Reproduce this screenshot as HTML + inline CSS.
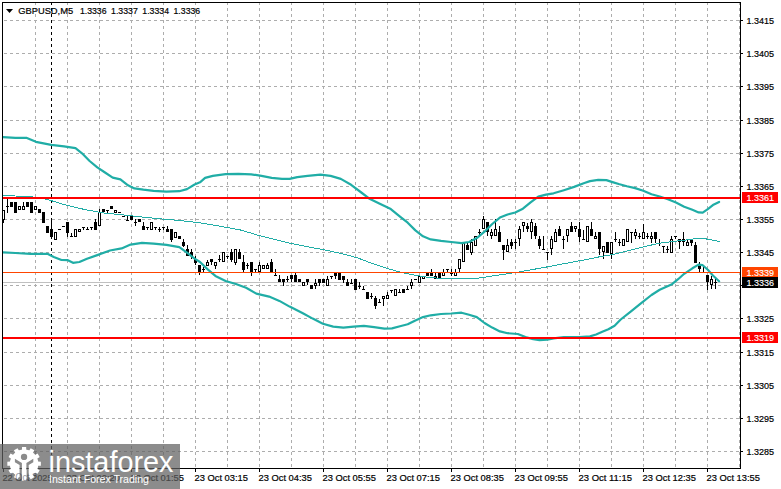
<!DOCTYPE html>
<html><head><meta charset="utf-8"><title>GBPUSD M5</title>
<style>html,body{margin:0;padding:0;background:#fff}body{width:781px;height:489px;overflow:hidden}</style>
</head><body>
<svg width="781" height="489" viewBox="0 0 781 489" style="display:block">
<rect width="781" height="489" fill="#fff"/>
<g stroke="#adadad" stroke-width="1" stroke-dasharray="3 3" shape-rendering="crispEdges" fill="none">
<path d="M4 20.5H740"/>
<path d="M4 53.5H740"/>
<path d="M4 86.5H740"/>
<path d="M4 120.5H740"/>
<path d="M4 153.5H740"/>
<path d="M4 186.5H740"/>
<path d="M4 219.5H740"/>
<path d="M4 252.5H740"/>
<path d="M4 285.5H740"/>
<path d="M4 318.5H740"/>
<path d="M4 352.5H740"/>
<path d="M4 385.5H740"/>
<path d="M4 418.5H740"/>
<path d="M4 451.5H740"/>
<path d="M35.5 2V468"/>
<path d="M67.5 2V468"/>
<path d="M99.5 2V468"/>
<path d="M131.5 2V468"/>
<path d="M163.5 2V468"/>
<path d="M195.5 2V468"/>
<path d="M227.5 2V468"/>
<path d="M259.5 2V468"/>
<path d="M291.5 2V468"/>
<path d="M323.5 2V468"/>
<path d="M355.5 2V468"/>
<path d="M387.5 2V468"/>
<path d="M419.5 2V468"/>
<path d="M451.5 2V468"/>
<path d="M483.5 2V468"/>
<path d="M515.5 2V468"/>
<path d="M547.5 2V468"/>
<path d="M579.5 2V468"/>
<path d="M611.5 2V468"/>
<path d="M643.5 2V468"/>
<path d="M675.5 2V468"/>
<path d="M707.5 2V468"/>
<path d="M739.5 2V468"/>
</g>
<path d="M51.5 2V468" stroke="#000" stroke-width="1" stroke-dasharray="3 3" shape-rendering="crispEdges"/>
<g shape-rendering="crispEdges">
<rect x="3" y="282" width="738" height="1" fill="#c0c0c0"/>
</g>
<g shape-rendering="crispEdges" fill="#000">
<rect x="3" y="210" width="1" height="13"/>
<rect x="2" y="210" width="3" height="10"/>
<rect x="3" y="211" width="1" height="8" fill="#fff"/>
<rect x="7" y="199" width="1" height="14"/>
<rect x="6" y="206" width="3" height="1"/>
<rect x="10" y="202" width="3" height="5"/>
<rect x="14" y="202" width="3" height="11"/>
<rect x="18" y="206" width="3" height="4"/>
<rect x="19" y="207" width="1" height="2" fill="#fff"/>
<rect x="23" y="202" width="1" height="8"/>
<rect x="22" y="206" width="3" height="4"/>
<rect x="23" y="207" width="1" height="2" fill="#fff"/>
<rect x="26" y="202" width="3" height="5"/>
<rect x="30" y="202" width="3" height="11"/>
<rect x="34" y="206" width="3" height="4"/>
<rect x="35" y="207" width="1" height="2" fill="#fff"/>
<rect x="38" y="209" width="3" height="4"/>
<rect x="42" y="212" width="3" height="11"/>
<rect x="46" y="226" width="3" height="7"/>
<rect x="51" y="219" width="1" height="20"/>
<rect x="50" y="229" width="3" height="8"/>
<rect x="54" y="232" width="3" height="8"/>
<rect x="55" y="233" width="1" height="6" fill="#fff"/>
<rect x="58" y="229" width="3" height="1"/>
<rect x="62" y="226" width="3" height="1"/>
<rect x="67" y="222" width="1" height="15"/>
<rect x="66" y="222" width="3" height="11"/>
<rect x="71" y="233" width="1" height="3"/>
<rect x="70" y="236" width="3" height="1"/>
<rect x="74" y="229" width="3" height="8"/>
<rect x="75" y="230" width="1" height="6" fill="#fff"/>
<rect x="78" y="229" width="3" height="3"/>
<rect x="79" y="230" width="1" height="1" fill="#fff"/>
<rect x="83" y="227" width="1" height="3"/>
<rect x="82" y="227" width="3" height="1"/>
<rect x="87" y="227" width="1" height="3"/>
<rect x="86" y="229" width="3" height="1"/>
<rect x="91" y="227" width="1" height="3"/>
<rect x="90" y="227" width="3" height="1"/>
<rect x="95" y="219" width="1" height="11"/>
<rect x="94" y="222" width="3" height="8"/>
<rect x="99" y="209" width="1" height="17"/>
<rect x="98" y="212" width="3" height="14"/>
<rect x="99" y="213" width="1" height="12" fill="#fff"/>
<rect x="102" y="209" width="3" height="3"/>
<rect x="107" y="210" width="1" height="3"/>
<rect x="106" y="210" width="3" height="1"/>
<rect x="110" y="206" width="3" height="3"/>
<rect x="114" y="210" width="3" height="3"/>
<rect x="115" y="211" width="1" height="1" fill="#fff"/>
<rect x="118" y="212" width="3" height="1"/>
<rect x="122" y="216" width="3" height="1"/>
<rect x="127" y="216" width="1" height="5"/>
<rect x="126" y="220" width="3" height="1"/>
<rect x="130" y="216" width="3" height="4"/>
<rect x="135" y="219" width="1" height="7"/>
<rect x="134" y="222" width="3" height="1"/>
<rect x="138" y="219" width="3" height="3"/>
<rect x="143" y="222" width="1" height="8"/>
<rect x="142" y="226" width="3" height="4"/>
<rect x="147" y="227" width="1" height="3"/>
<rect x="146" y="227" width="3" height="1"/>
<rect x="150" y="222" width="3" height="8"/>
<rect x="151" y="223" width="1" height="6" fill="#fff"/>
<rect x="155" y="227" width="1" height="3"/>
<rect x="154" y="227" width="3" height="1"/>
<rect x="159" y="227" width="1" height="5"/>
<rect x="158" y="229" width="3" height="1"/>
<rect x="163" y="227" width="1" height="3"/>
<rect x="162" y="227" width="3" height="1"/>
<rect x="167" y="226" width="1" height="6"/>
<rect x="166" y="229" width="3" height="3"/>
<rect x="171" y="229" width="1" height="13"/>
<rect x="170" y="229" width="3" height="11"/>
<rect x="174" y="232" width="3" height="6"/>
<rect x="175" y="233" width="1" height="4" fill="#fff"/>
<rect x="178" y="236" width="3" height="3"/>
<rect x="183" y="239" width="1" height="8"/>
<rect x="182" y="242" width="3" height="4"/>
<rect x="187" y="245" width="1" height="11"/>
<rect x="186" y="249" width="3" height="7"/>
<rect x="191" y="249" width="1" height="10"/>
<rect x="190" y="252" width="3" height="4"/>
<rect x="195" y="256" width="1" height="9"/>
<rect x="194" y="259" width="3" height="4"/>
<rect x="199" y="265" width="1" height="10"/>
<rect x="198" y="265" width="3" height="7"/>
<rect x="203" y="267" width="1" height="5"/>
<rect x="202" y="269" width="3" height="1"/>
<rect x="207" y="260" width="1" height="6"/>
<rect x="206" y="262" width="3" height="4"/>
<rect x="207" y="263" width="1" height="2" fill="#fff"/>
<rect x="211" y="259" width="1" height="6"/>
<rect x="210" y="259" width="3" height="3"/>
<rect x="215" y="262" width="1" height="7"/>
<rect x="214" y="262" width="3" height="4"/>
<rect x="215" y="263" width="1" height="2" fill="#fff"/>
<rect x="219" y="255" width="1" height="7"/>
<rect x="218" y="259" width="3" height="1"/>
<rect x="222" y="252" width="3" height="10"/>
<rect x="223" y="253" width="1" height="8" fill="#fff"/>
<rect x="227" y="256" width="1" height="3"/>
<rect x="226" y="256" width="3" height="1"/>
<rect x="231" y="249" width="1" height="13"/>
<rect x="230" y="252" width="3" height="8"/>
<rect x="235" y="249" width="1" height="16"/>
<rect x="234" y="249" width="3" height="14"/>
<rect x="235" y="250" width="1" height="12" fill="#fff"/>
<rect x="239" y="249" width="1" height="10"/>
<rect x="238" y="252" width="3" height="7"/>
<rect x="243" y="255" width="1" height="17"/>
<rect x="242" y="262" width="3" height="8"/>
<rect x="247" y="263" width="1" height="6"/>
<rect x="246" y="265" width="3" height="1"/>
<rect x="251" y="262" width="1" height="14"/>
<rect x="250" y="262" width="3" height="10"/>
<rect x="255" y="269" width="1" height="3"/>
<rect x="254" y="269" width="3" height="1"/>
<rect x="259" y="262" width="1" height="10"/>
<rect x="258" y="265" width="3" height="7"/>
<rect x="259" y="266" width="1" height="5" fill="#fff"/>
<rect x="262" y="265" width="3" height="4"/>
<rect x="263" y="266" width="1" height="2" fill="#fff"/>
<rect x="267" y="263" width="1" height="6"/>
<rect x="266" y="265" width="3" height="4"/>
<rect x="267" y="266" width="1" height="2" fill="#fff"/>
<rect x="271" y="259" width="1" height="13"/>
<rect x="270" y="262" width="3" height="10"/>
<rect x="275" y="269" width="1" height="7"/>
<rect x="274" y="275" width="3" height="1"/>
<rect x="279" y="275" width="1" height="7"/>
<rect x="278" y="279" width="3" height="3"/>
<rect x="283" y="279" width="1" height="7"/>
<rect x="282" y="279" width="3" height="3"/>
<rect x="287" y="276" width="1" height="6"/>
<rect x="286" y="279" width="3" height="1"/>
<rect x="291" y="275" width="1" height="7"/>
<rect x="290" y="275" width="3" height="4"/>
<rect x="295" y="272" width="1" height="10"/>
<rect x="294" y="275" width="3" height="7"/>
<rect x="298" y="279" width="3" height="3"/>
<rect x="302" y="282" width="3" height="4"/>
<rect x="303" y="283" width="1" height="2" fill="#fff"/>
<rect x="307" y="279" width="1" height="6"/>
<rect x="306" y="279" width="3" height="3"/>
<rect x="310" y="285" width="3" height="4"/>
<rect x="315" y="279" width="1" height="10"/>
<rect x="314" y="283" width="3" height="3"/>
<rect x="315" y="284" width="1" height="1" fill="#fff"/>
<rect x="319" y="279" width="1" height="7"/>
<rect x="318" y="279" width="3" height="4"/>
<rect x="322" y="279" width="3" height="4"/>
<rect x="327" y="276" width="1" height="10"/>
<rect x="326" y="279" width="3" height="7"/>
<rect x="327" y="280" width="1" height="5" fill="#fff"/>
<rect x="331" y="276" width="1" height="3"/>
<rect x="330" y="276" width="3" height="1"/>
<rect x="335" y="272" width="1" height="7"/>
<rect x="334" y="272" width="3" height="4"/>
<rect x="338" y="272" width="3" height="8"/>
<rect x="343" y="276" width="1" height="7"/>
<rect x="342" y="276" width="3" height="4"/>
<rect x="347" y="279" width="1" height="7"/>
<rect x="346" y="282" width="3" height="4"/>
<rect x="351" y="279" width="1" height="5"/>
<rect x="350" y="283" width="3" height="1"/>
<rect x="354" y="279" width="3" height="11"/>
<rect x="359" y="282" width="1" height="7"/>
<rect x="358" y="286" width="3" height="1"/>
<rect x="363" y="286" width="1" height="4"/>
<rect x="362" y="289" width="3" height="1"/>
<rect x="366" y="292" width="3" height="7"/>
<rect x="371" y="293" width="1" height="6"/>
<rect x="370" y="296" width="3" height="1"/>
<rect x="375" y="296" width="1" height="13"/>
<rect x="374" y="298" width="3" height="8"/>
<rect x="379" y="299" width="1" height="4"/>
<rect x="378" y="302" width="3" height="1"/>
<rect x="383" y="296" width="1" height="10"/>
<rect x="382" y="296" width="3" height="3"/>
<rect x="383" y="297" width="1" height="1" fill="#fff"/>
<rect x="387" y="292" width="1" height="7"/>
<rect x="386" y="295" width="3" height="4"/>
<rect x="387" y="296" width="1" height="2" fill="#fff"/>
<rect x="391" y="290" width="1" height="3"/>
<rect x="390" y="290" width="3" height="1"/>
<rect x="394" y="289" width="3" height="7"/>
<rect x="395" y="290" width="1" height="5" fill="#fff"/>
<rect x="399" y="289" width="1" height="4"/>
<rect x="398" y="292" width="3" height="1"/>
<rect x="402" y="289" width="3" height="4"/>
<rect x="407" y="286" width="1" height="4"/>
<rect x="406" y="289" width="3" height="1"/>
<rect x="411" y="279" width="1" height="10"/>
<rect x="410" y="282" width="3" height="4"/>
<rect x="411" y="283" width="1" height="2" fill="#fff"/>
<rect x="414" y="279" width="3" height="1"/>
<rect x="418" y="276" width="3" height="7"/>
<rect x="419" y="277" width="1" height="5" fill="#fff"/>
<rect x="422" y="276" width="3" height="3"/>
<rect x="423" y="277" width="1" height="1" fill="#fff"/>
<rect x="426" y="272" width="3" height="4"/>
<rect x="431" y="269" width="1" height="7"/>
<rect x="430" y="272" width="3" height="4"/>
<rect x="435" y="273" width="1" height="6"/>
<rect x="434" y="276" width="3" height="3"/>
<rect x="435" y="277" width="1" height="1" fill="#fff"/>
<rect x="438" y="272" width="3" height="7"/>
<rect x="443" y="269" width="1" height="7"/>
<rect x="442" y="272" width="3" height="4"/>
<rect x="443" y="273" width="1" height="2" fill="#fff"/>
<rect x="447" y="269" width="1" height="4"/>
<rect x="446" y="269" width="3" height="1"/>
<rect x="451" y="269" width="1" height="7"/>
<rect x="450" y="273" width="3" height="1"/>
<rect x="455" y="269" width="1" height="7"/>
<rect x="454" y="272" width="3" height="4"/>
<rect x="455" y="273" width="1" height="2" fill="#fff"/>
<rect x="459" y="259" width="1" height="14"/>
<rect x="458" y="259" width="3" height="10"/>
<rect x="459" y="260" width="1" height="8" fill="#fff"/>
<rect x="462" y="243" width="3" height="19"/>
<rect x="463" y="244" width="1" height="17" fill="#fff"/>
<rect x="467" y="242" width="1" height="8"/>
<rect x="466" y="245" width="3" height="5"/>
<rect x="471" y="239" width="1" height="16"/>
<rect x="470" y="242" width="3" height="11"/>
<rect x="471" y="243" width="1" height="9" fill="#fff"/>
<rect x="474" y="236" width="3" height="10"/>
<rect x="475" y="237" width="1" height="8" fill="#fff"/>
<rect x="479" y="229" width="1" height="7"/>
<rect x="478" y="232" width="3" height="1"/>
<rect x="483" y="216" width="1" height="13"/>
<rect x="482" y="219" width="3" height="10"/>
<rect x="483" y="220" width="1" height="8" fill="#fff"/>
<rect x="487" y="222" width="1" height="14"/>
<rect x="486" y="222" width="3" height="10"/>
<rect x="491" y="229" width="1" height="10"/>
<rect x="490" y="232" width="3" height="4"/>
<rect x="491" y="233" width="1" height="2" fill="#fff"/>
<rect x="495" y="219" width="1" height="17"/>
<rect x="494" y="229" width="3" height="7"/>
<rect x="495" y="230" width="1" height="5" fill="#fff"/>
<rect x="499" y="226" width="1" height="16"/>
<rect x="498" y="232" width="3" height="10"/>
<rect x="503" y="245" width="1" height="15"/>
<rect x="502" y="245" width="3" height="5"/>
<rect x="507" y="239" width="1" height="13"/>
<rect x="506" y="245" width="3" height="7"/>
<rect x="507" y="246" width="1" height="5" fill="#fff"/>
<rect x="511" y="239" width="1" height="10"/>
<rect x="510" y="242" width="3" height="4"/>
<rect x="515" y="239" width="1" height="10"/>
<rect x="514" y="242" width="3" height="1"/>
<rect x="519" y="226" width="1" height="20"/>
<rect x="518" y="229" width="3" height="10"/>
<rect x="519" y="230" width="1" height="8" fill="#fff"/>
<rect x="523" y="222" width="1" height="10"/>
<rect x="522" y="222" width="3" height="4"/>
<rect x="523" y="223" width="1" height="2" fill="#fff"/>
<rect x="527" y="223" width="1" height="9"/>
<rect x="526" y="226" width="3" height="3"/>
<rect x="531" y="219" width="1" height="20"/>
<rect x="530" y="222" width="3" height="10"/>
<rect x="531" y="223" width="1" height="8" fill="#fff"/>
<rect x="535" y="223" width="1" height="16"/>
<rect x="534" y="226" width="3" height="10"/>
<rect x="539" y="236" width="1" height="13"/>
<rect x="538" y="239" width="3" height="7"/>
<rect x="543" y="236" width="1" height="14"/>
<rect x="542" y="249" width="3" height="1"/>
<rect x="547" y="252" width="1" height="8"/>
<rect x="546" y="252" width="3" height="1"/>
<rect x="551" y="236" width="1" height="19"/>
<rect x="550" y="239" width="3" height="10"/>
<rect x="551" y="240" width="1" height="8" fill="#fff"/>
<rect x="555" y="229" width="1" height="13"/>
<rect x="554" y="232" width="3" height="10"/>
<rect x="555" y="233" width="1" height="8" fill="#fff"/>
<rect x="559" y="226" width="1" height="10"/>
<rect x="558" y="229" width="3" height="7"/>
<rect x="563" y="236" width="1" height="13"/>
<rect x="562" y="239" width="3" height="1"/>
<rect x="567" y="229" width="1" height="13"/>
<rect x="566" y="229" width="3" height="7"/>
<rect x="567" y="230" width="1" height="5" fill="#fff"/>
<rect x="571" y="222" width="1" height="10"/>
<rect x="570" y="226" width="3" height="6"/>
<rect x="575" y="226" width="1" height="6"/>
<rect x="574" y="226" width="3" height="3"/>
<rect x="575" y="227" width="1" height="1" fill="#fff"/>
<rect x="579" y="222" width="1" height="20"/>
<rect x="578" y="229" width="3" height="8"/>
<rect x="583" y="230" width="1" height="10"/>
<rect x="582" y="239" width="3" height="1"/>
<rect x="586" y="226" width="3" height="16"/>
<rect x="587" y="227" width="1" height="14" fill="#fff"/>
<rect x="591" y="222" width="1" height="14"/>
<rect x="590" y="229" width="3" height="7"/>
<rect x="595" y="232" width="1" height="7"/>
<rect x="594" y="236" width="3" height="3"/>
<rect x="595" y="237" width="1" height="1" fill="#fff"/>
<rect x="599" y="232" width="1" height="23"/>
<rect x="598" y="232" width="3" height="17"/>
<rect x="603" y="246" width="1" height="13"/>
<rect x="602" y="246" width="3" height="6"/>
<rect x="603" y="247" width="1" height="4" fill="#fff"/>
<rect x="606" y="242" width="3" height="11"/>
<rect x="611" y="242" width="1" height="17"/>
<rect x="610" y="242" width="3" height="12"/>
<rect x="611" y="243" width="1" height="10" fill="#fff"/>
<rect x="615" y="232" width="1" height="10"/>
<rect x="614" y="239" width="3" height="1"/>
<rect x="619" y="239" width="1" height="7"/>
<rect x="618" y="242" width="3" height="1"/>
<rect x="622" y="239" width="3" height="7"/>
<rect x="623" y="240" width="1" height="5" fill="#fff"/>
<rect x="626" y="229" width="3" height="13"/>
<rect x="627" y="230" width="1" height="11" fill="#fff"/>
<rect x="631" y="232" width="1" height="11"/>
<rect x="630" y="232" width="3" height="1"/>
<rect x="635" y="229" width="1" height="10"/>
<rect x="634" y="232" width="3" height="4"/>
<rect x="635" y="233" width="1" height="2" fill="#fff"/>
<rect x="639" y="233" width="1" height="6"/>
<rect x="638" y="236" width="3" height="1"/>
<rect x="643" y="224" width="1" height="15"/>
<rect x="642" y="232" width="3" height="7"/>
<rect x="643" y="233" width="1" height="5" fill="#fff"/>
<rect x="647" y="233" width="1" height="6"/>
<rect x="646" y="236" width="3" height="1"/>
<rect x="651" y="232" width="1" height="11"/>
<rect x="650" y="236" width="3" height="3"/>
<rect x="651" y="237" width="1" height="1" fill="#fff"/>
<rect x="655" y="232" width="1" height="11"/>
<rect x="654" y="232" width="3" height="7"/>
<rect x="659" y="239" width="1" height="7"/>
<rect x="658" y="243" width="3" height="1"/>
<rect x="663" y="246" width="1" height="7"/>
<rect x="662" y="246" width="3" height="1"/>
<rect x="667" y="246" width="1" height="7"/>
<rect x="666" y="249" width="3" height="1"/>
<rect x="671" y="236" width="1" height="17"/>
<rect x="670" y="239" width="3" height="14"/>
<rect x="671" y="240" width="1" height="12" fill="#fff"/>
<rect x="675" y="236" width="1" height="3"/>
<rect x="674" y="236" width="3" height="1"/>
<rect x="679" y="239" width="1" height="10"/>
<rect x="678" y="239" width="3" height="3"/>
<rect x="683" y="232" width="1" height="14"/>
<rect x="682" y="239" width="3" height="3"/>
<rect x="687" y="239" width="1" height="7"/>
<rect x="686" y="242" width="3" height="4"/>
<rect x="687" y="243" width="1" height="2" fill="#fff"/>
<rect x="691" y="240" width="1" height="6"/>
<rect x="690" y="240" width="3" height="3"/>
<rect x="695" y="242" width="1" height="21"/>
<rect x="694" y="245" width="3" height="18"/>
<rect x="699" y="262" width="1" height="10"/>
<rect x="698" y="266" width="3" height="3"/>
<rect x="703" y="266" width="1" height="7"/>
<rect x="702" y="272" width="3" height="1"/>
<rect x="707" y="275" width="1" height="15"/>
<rect x="706" y="275" width="3" height="7"/>
<rect x="711" y="276" width="1" height="13"/>
<rect x="710" y="279" width="3" height="6"/>
<rect x="711" y="280" width="1" height="4" fill="#fff"/>
<rect x="715" y="279" width="1" height="10"/>
<rect x="714" y="282" width="3" height="1"/>
</g>
<g fill="none" stroke="#20ada6" stroke-linejoin="round" stroke-linecap="round">
<polyline points="3.0,195.5 15.4,196.0 28.2,196.3 47.4,199.4 64.0,204.6 84.5,209.5 102.4,212.8 120.4,214.6 138.3,216.6 158.8,218.7 179.3,220.5 200.0,222.8 220.5,226.3 241.0,230.1 258.9,235.5 271.7,238.6 289.6,243.2 307.6,246.8 325.5,250.1 343.4,254.0 358.8,258.3 372.4,263.6 388.0,268.6 401.2,272.4 415.4,275.3 430.7,277.8 451.2,278.6 476.8,278.3 497.2,275.3 517.2,272.3 543.4,267.6 563.9,263.7 584.4,259.9 600.0,256.7 612.0,254.7 627.7,250.8 643.5,246.9 659.2,243.2 672.0,241.6 686.3,240.0 699.2,238.2 709.2,239.3 719.2,241.5" stroke-width="1" shape-rendering="crispEdges"/>
<polyline points="3.0,137.2 15.4,137.9 26.9,137.9 35.9,141.8 51.2,144.8 64.0,146.4 75.5,148.2 82.0,153.3 89.6,161.0 97.3,167.4 105.0,172.5 112.7,177.6 120.4,179.4 128.0,185.3 134.4,188.4 143.4,189.7 153.6,190.9 166.5,191.7 179.3,191.2 187.0,189.1 194.6,184.5 200.0,182.3 205.1,177.9 212.8,175.9 225.6,174.1 238.4,173.8 251.2,174.3 261.5,175.9 271.7,177.9 282.0,178.9 289.6,178.9 297.3,177.1 307.6,175.9 320.4,174.6 330.6,175.9 340.8,178.9 351.1,184.8 361.3,192.5 369.0,198.4 379.3,203.5 390.8,209.1 400.0,216.6 407.7,222.7 415.4,230.4 423.0,236.3 430.7,239.4 441.0,240.9 451.2,242.0 461.5,243.2 469.1,242.0 476.8,238.1 484.5,231.7 492.2,224.0 499.9,217.6 507.6,214.5 515.2,212.5 522.9,208.7 530.6,202.3 538.3,196.6 546.0,194.6 553.6,193.3 563.9,190.2 574.1,186.9 584.4,183.0 590.0,181.1 598.2,179.9 606.4,180.1 612.5,182.1 618.7,184.0 626.9,186.2 635.1,188.1 643.3,190.7 651.5,194.2 659.7,196.5 667.9,199.3 676.0,202.6 684.2,206.7 692.4,209.8 698.6,212.4 702.7,212.7 707.8,209.2 712.9,205.1 719.1,202.0" stroke-width="2.2"/>
<polyline points="3.0,252.3 15.4,253.0 30.7,253.8 47.4,253.8 53.8,256.9 61.5,260.0 67.9,260.2 73.0,262.8 79.4,262.0 87.0,258.7 97.3,255.1 110.0,250.5 121.6,248.4 130.6,244.6 142.0,242.8 153.6,243.6 166.5,244.9 179.3,247.2 187.0,252.6 194.6,258.6 200.0,262.0 207.7,269.4 215.4,275.9 225.6,281.0 235.9,284.0 246.1,287.8 256.3,293.6 269.1,296.6 279.4,300.9 289.6,306.6 302.4,313.0 312.7,318.6 322.9,323.7 333.2,326.6 343.4,327.6 353.6,326.6 363.9,325.8 374.1,327.1 384.4,328.6 392.0,328.4 400.0,326.2 407.7,324.3 415.4,320.4 423.0,317.1 430.7,315.3 441.0,314.0 451.2,313.5 461.5,312.7 469.1,314.8 476.8,317.1 484.5,323.0 492.2,327.6 499.9,331.4 507.6,333.2 517.8,334.0 525.5,337.1 533.2,339.1 539.6,340.1 547.2,339.6 553.6,338.3 563.9,337.1 579.3,337.1 590.0,336.4 596.1,334.5 602.3,331.8 608.4,329.2 614.6,325.7 620.7,319.5 631.0,311.3 641.2,303.1 651.5,295.0 659.7,289.8 672.0,284.2 678.1,279.2 684.2,273.8 692.4,268.3 698.6,264.6 702.7,265.2 707.8,269.8 712.9,275.5 719.1,281.2" stroke-width="2.2"/>
</g>
<g shape-rendering="crispEdges">
<rect x="3" y="272" width="738" height="1" fill="#ff4500"/>
<rect x="3" y="197" width="738" height="2" fill="#ff0000"/>
<rect x="3" y="337" width="738" height="2" fill="#ff0000"/>
<rect x="2" y="2" width="739" height="1" fill="#000"/>
<rect x="2" y="2" width="1" height="467" fill="#000"/>
<rect x="740" y="2" width="1" height="467" fill="#000"/>
<rect x="2" y="468" width="739" height="1" fill="#000"/>
<rect x="741" y="20" width="2" height="1" fill="#000"/>
<rect x="741" y="53" width="2" height="1" fill="#000"/>
<rect x="741" y="86" width="2" height="1" fill="#000"/>
<rect x="741" y="120" width="2" height="1" fill="#000"/>
<rect x="741" y="153" width="2" height="1" fill="#000"/>
<rect x="741" y="186" width="2" height="1" fill="#000"/>
<rect x="741" y="219" width="2" height="1" fill="#000"/>
<rect x="741" y="252" width="2" height="1" fill="#000"/>
<rect x="741" y="285" width="2" height="1" fill="#000"/>
<rect x="741" y="318" width="2" height="1" fill="#000"/>
<rect x="741" y="352" width="2" height="1" fill="#000"/>
<rect x="741" y="385" width="2" height="1" fill="#000"/>
<rect x="741" y="418" width="2" height="1" fill="#000"/>
<rect x="741" y="451" width="2" height="1" fill="#000"/>
<rect x="3" y="469" width="1" height="3" fill="#000"/>
<rect x="67" y="469" width="1" height="3" fill="#000"/>
<rect x="131" y="469" width="1" height="3" fill="#000"/>
<rect x="195" y="469" width="1" height="3" fill="#000"/>
<rect x="259" y="469" width="1" height="3" fill="#000"/>
<rect x="323" y="469" width="1" height="3" fill="#000"/>
<rect x="387" y="469" width="1" height="3" fill="#000"/>
<rect x="451" y="469" width="1" height="3" fill="#000"/>
<rect x="515" y="469" width="1" height="3" fill="#000"/>
<rect x="579" y="469" width="1" height="3" fill="#000"/>
<rect x="643" y="469" width="1" height="3" fill="#000"/>
<rect x="707" y="469" width="1" height="3" fill="#000"/>
<rect x="742" y="192" width="36" height="11" fill="#ff0000"/>
<rect x="742" y="332" width="36" height="11" fill="#ff0000"/>
<rect x="742" y="267" width="36" height="11" fill="#ff4500"/>
<rect x="742" y="277" width="36" height="11" fill="#000"/>
</g>
<g font-family="Liberation Sans, sans-serif" font-size="9.4" fill="#000" stroke="#000" stroke-width="0.2">
<text x="746.5" y="24" textLength="27.5" lengthAdjust="spacingAndGlyphs">1.3415</text>
<text x="746.5" y="57" textLength="27.5" lengthAdjust="spacingAndGlyphs">1.3405</text>
<text x="746.5" y="90" textLength="27.5" lengthAdjust="spacingAndGlyphs">1.3395</text>
<text x="746.5" y="124" textLength="27.5" lengthAdjust="spacingAndGlyphs">1.3385</text>
<text x="746.5" y="157" textLength="27.5" lengthAdjust="spacingAndGlyphs">1.3375</text>
<text x="746.5" y="190" textLength="27.5" lengthAdjust="spacingAndGlyphs">1.3365</text>
<text x="746.5" y="223" textLength="27.5" lengthAdjust="spacingAndGlyphs">1.3355</text>
<text x="746.5" y="256" textLength="27.5" lengthAdjust="spacingAndGlyphs">1.3345</text>
<text x="746.5" y="322" textLength="27.5" lengthAdjust="spacingAndGlyphs">1.3325</text>
<text x="746.5" y="356" textLength="27.5" lengthAdjust="spacingAndGlyphs">1.3315</text>
<text x="746.5" y="389" textLength="27.5" lengthAdjust="spacingAndGlyphs">1.3305</text>
<text x="746.5" y="422" textLength="27.5" lengthAdjust="spacingAndGlyphs">1.3295</text>
<text x="746.5" y="455" textLength="27.5" lengthAdjust="spacingAndGlyphs">1.3285</text>
</g>
<g font-family="Liberation Sans, sans-serif" font-size="9.4" fill="#fff" stroke="#fff" stroke-width="0.15">
<text x="746.5" y="201" textLength="27.5" lengthAdjust="spacingAndGlyphs">1.3361</text>
<text x="746.5" y="341" textLength="27.5" lengthAdjust="spacingAndGlyphs">1.3319</text>
<text x="746.5" y="276" textLength="27.5" lengthAdjust="spacingAndGlyphs">1.3339</text>
<text x="746.5" y="286" textLength="27.5" lengthAdjust="spacingAndGlyphs">1.3336</text>
</g>
<g font-family="Liberation Sans, sans-serif" font-size="9.4" fill="#000" stroke="#000" stroke-width="0.2">
<text x="2.5" y="481" textLength="50" lengthAdjust="spacingAndGlyphs">22 Oct 2025</text>
<text x="66.5" y="481" textLength="53.5" lengthAdjust="spacingAndGlyphs">23 Oct 00:20</text>
<text x="130.5" y="481" textLength="53.5" lengthAdjust="spacingAndGlyphs">23 Oct 01:55</text>
<text x="194.5" y="481" textLength="53.5" lengthAdjust="spacingAndGlyphs">23 Oct 03:15</text>
<text x="258.5" y="481" textLength="53.5" lengthAdjust="spacingAndGlyphs">23 Oct 04:35</text>
<text x="322.5" y="481" textLength="53.5" lengthAdjust="spacingAndGlyphs">23 Oct 05:55</text>
<text x="386.5" y="481" textLength="53.5" lengthAdjust="spacingAndGlyphs">23 Oct 07:15</text>
<text x="450.5" y="481" textLength="53.5" lengthAdjust="spacingAndGlyphs">23 Oct 08:35</text>
<text x="514.5" y="481" textLength="53.5" lengthAdjust="spacingAndGlyphs">23 Oct 09:55</text>
<text x="578.5" y="481" textLength="53.5" lengthAdjust="spacingAndGlyphs">23 Oct 11:15</text>
<text x="642.5" y="481" textLength="53.5" lengthAdjust="spacingAndGlyphs">23 Oct 12:35</text>
<text x="706.5" y="481" textLength="53.5" lengthAdjust="spacingAndGlyphs">23 Oct 13:55</text>
</g>
<path d="M6 9h7l-3.5 4z" fill="#000"/>
<g font-family="Liberation Sans, sans-serif" font-size="9.4" fill="#000" stroke="#000" stroke-width="0.2">
<text x="18.2" y="14" textLength="55" lengthAdjust="spacingAndGlyphs">GBPUSD,M5</text>
<text x="79.9" y="14" textLength="26.7" lengthAdjust="spacingAndGlyphs">1.3336</text>
<text x="111.1" y="14" textLength="26.7" lengthAdjust="spacingAndGlyphs">1.3337</text>
<text x="142.3" y="14" textLength="26.7" lengthAdjust="spacingAndGlyphs">1.3334</text>
<text x="173.5" y="14" textLength="26.7" lengthAdjust="spacingAndGlyphs">1.3336</text>
</g>
<rect x="0" y="444" width="180" height="45" fill="rgb(96,96,96)" fill-opacity="0.725"/>
<path d="M21.93 449.97 L22.04 446.93 L26.16 446.93 L26.27 449.97 L29.08 450.72 L30.70 448.14 L34.27 450.20 L32.85 452.90 L34.90 454.95 L37.60 453.53 L39.66 457.10 L37.08 458.72 L37.83 461.53 L40.87 461.64 L40.87 465.76 L37.83 465.87 L37.08 468.68 L39.66 470.30 L37.60 473.87 L34.90 472.45 L32.85 474.50 L34.27 477.20 L30.70 479.26 L29.08 476.68 L26.27 477.43 L26.16 480.47 L22.04 480.47 L21.93 477.43 L19.12 476.68 L17.50 479.26 L13.93 477.20 L15.35 474.50 L13.30 472.45 L10.60 473.87 L8.54 470.30 L11.12 468.68 L10.37 465.87 L7.33 465.76 L7.33 461.64 L10.37 461.53 L11.12 458.72 L8.54 457.10 L10.60 453.53 L13.30 454.95 L15.35 452.90 L13.93 450.20 L17.50 448.14 L19.12 450.72Z" fill="#fff"/>
<circle cx="24.1" cy="463.7" r="14.200000000000001" fill="#fff"/>
<circle cx="24.05" cy="456.9" r="3.15" fill="#8b8b8b"/>
<path d="M14.9 458.8L21.9 463V479.3H19.6V465L14.9 462.3ZM33.3 458.8L26.4 463V479.3H28.7V465L33.3 462.3Z" fill="#8b8b8b"/>
<rect x="21.9" y="470" width="4.5" height="10.4" fill="#fff"/>
<clipPath id="gc"><circle cx="24.1" cy="463.7" r="17"/></clipPath>
<text x="2.5" y="481" font-family="Liberation Sans, sans-serif" font-size="10" fill="#223" opacity="0.45" clip-path="url(#gc)" textLength="50" lengthAdjust="spacingAndGlyphs">22 Oct 2025</text>
<rect x="19.6" y="468" width="2.3" height="1" fill="#444"/><rect x="26.4" y="468" width="2.3" height="1" fill="#444"/>
<text x="48.5" y="472" font-family="Liberation Sans, sans-serif" font-size="30" fill="#fff" textLength="125" lengthAdjust="spacingAndGlyphs">instaforex</text>
<text x="49" y="483" font-family="Liberation Sans, sans-serif" font-size="10" fill="#fff" textLength="100" lengthAdjust="spacingAndGlyphs">Instant Forex Trading</text>
</svg>
</body></html>
